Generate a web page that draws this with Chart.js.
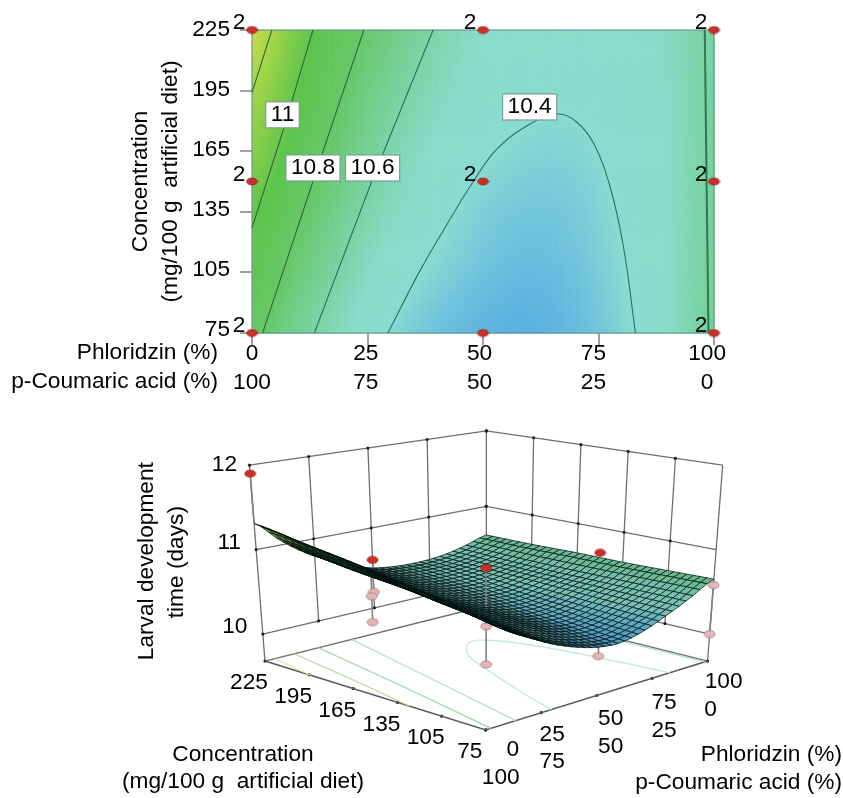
<!DOCTYPE html>
<html>
<head>
<meta charset="utf-8">
<title>Larval development time</title>
<style>
html, body { margin: 0; padding: 0; background: #fff; overflow: hidden; }
canvas { position: absolute; left: 0; display: block; }
#contourChart { top: 0; }
#surfaceChart { top: 400px; }
</style>
<script src="https://cdn.jsdelivr.net/npm/chart.js@4/dist/chart.umd.min.js"></script>
</head>
<body>
<canvas id="contourChart" width="843" height="400"></canvas>
<canvas id="surfaceChart" width="843" height="398"></canvas>
<script>
var phloridzinTicks = [0, 25, 50, 75, 100];
var coumaricTicks = [100, 75, 50, 25, 0];
var concentrationTicks = [75, 105, 135, 165, 195, 225];
var timeTicks = [10, 11, 12];

// response, rows run from 225 down to 75, columns from 0 to 100 %
var gridPhloridzin = [0, 10, 20, 30, 40, 50, 60, 70, 80, 90, 100];
var gridConcentration = [225, 195, 165, 135, 105, 75];
var row225 = [11.31, 11.07, 10.87, 10.72, 10.59, 10.50, 10.46, 10.45, 10.47, 10.53, 10.62];
var row195 = [11.21, 11.01, 10.80, 10.65, 10.54, 10.46, 10.42, 10.42, 10.45, 10.51, 10.62];
var row165 = [11.12, 10.94, 10.74, 10.59, 10.48, 10.41, 10.37, 10.37, 10.43, 10.50, 10.63];
var row135 = [11.03, 10.84, 10.66, 10.53, 10.43, 10.35, 10.31, 10.33, 10.41, 10.50, 10.63];
var row105 = [10.94, 10.75, 10.59, 10.46, 10.37, 10.29, 10.25, 10.29, 10.39, 10.50, 10.64];
var row75 = [10.84, 10.66, 10.52, 10.39, 10.29, 10.22, 10.20, 10.26, 10.37, 10.50, 10.65];
var devTime = [row225, row195, row165, row135, row105, row75];

// contour lines
var line112X = [4.3, 0];
var line112Y = [225, 194];
var line11X = [13.2, 6.7, 0];
var line11Y = [225, 175, 127];
var line108X = [24.2, 13.2, 2.3];
var line108Y = [225, 150, 75];
var line106X = [39.2, 25.9, 13.5];
var line106Y = [225, 150, 75];
var line104X = [29.4, 36.4, 42, 47.9, 53, 60.2, 66.3, 70.2, 73.9, 77.5, 80.4, 83];
var line104Y = [75, 106, 128, 150, 166, 178.5, 183.4, 179.6, 169, 147.4, 117.7, 75];
var line106RightX = [98, 98.4, 98.8];
var line106RightY = [225, 150, 75];

var contourBoxText = ['11', '10.8', '10.6', '10.4'];
var contourBoxX = [6.6, 13.2, 26.1, 60.1];
var contourBoxY = [183, 156.7, 156.7, 186.9];

// design points on the contour plot and how many runs sit on each
var designX = [0, 0, 0, 50, 50, 50, 100, 100, 100];
var designY = [225, 150, 75, 225, 150, 75, 225, 150, 75];
var designRuns = [2, 2, 2, 2, 2, 1, 2, 2, 2];

// runs seen on the 3D plot
var aboveX = [0, 50, 50, 100];
var aboveY = [225, 225, 150, 150];
var aboveTime = [11.9, 10.6, 10.82, 10.69];
var belowX = [50, 0, 0, 50, 50, 50, 100, 100];
var belowY = [225, 150, 150, 150, 150, 75, 75, 75];
var belowTime = [10.2, 10.79, 10.5, 10.13, 9.68, 10.12, 10.58, 10.0];

var rampTime = [10.2, 10.3, 10.4, 10.5, 10.6, 10.8, 11.0, 11.2, 11.35];
var rampColor = [[90, 176, 224], [112, 196, 220], [136, 220, 208], [136, 220, 200], [122, 212, 168], [102, 200, 106], [92, 196, 76], [160, 212, 72], [208, 220, 80]];

var FONT = '"Liberation Sans", Arial, sans-serif';
var FONT_SIZE = 22.7;
var FLOOR_TIME = 9.68;
var TOP_TIME = 12;

Chart.defaults.font.family = FONT;
Chart.defaults.font.size = FONT_SIZE;
Chart.defaults.color = '#000';

function rampAt(z) {
    var i = 0;
    if (z <= rampTime[0]) return rampColor[0].slice();
    while (i < rampTime.length - 2 && z > rampTime[i + 1]) i++;
    var t = Math.min(1, (z - rampTime[i]) / (rampTime[i + 1] - rampTime[i]));
    return rampColor[i].map(function (c, k) { return c + (rampColor[i + 1][k] - c) * t; });
}

function rgb(c, k) {
    k = k || 1;
    return 'rgb(' + Math.round(c[0] * k) + ',' + Math.round(c[1] * k) + ',' + Math.round(c[2] * k) + ')';
}

function catmull(a, b, c, d, t) {
    return b + 0.5 * t * (c - a + t * (2 * a - 5 * b + 4 * c - d + t * (3 * (b - c) + d - a)));
}

// display-only smoothing of the read grid, used for shading and the fine mesh
function sampleTime(x, y) {
    var cf = x / 10, rf = (225 - y) / 30;
    var c = Math.min(9, Math.floor(cf)), r = Math.min(4, Math.floor(rf));
    var vals = [];
    for (var i = -1; i <= 2; i++) {
        var row = devTime[Math.max(0, Math.min(5, r + i))];
        vals.push(catmull(row[Math.max(0, c - 1)], row[c], row[c + 1], row[Math.min(10, c + 2)], cf - c));
    }
    return catmull(vals[0], vals[1], vals[2], vals[3], rf - r);
}

function pairs(xs, ys) {
    return xs.map(function (v, i) { return { x: v, y: ys[i] }; });
}

function ellipseSprite(fill, stroke) {
    var c = document.createElement('canvas');
    c.width = 13; c.height = 9;
    var g = c.getContext('2d');
    g.beginPath();
    g.ellipse(6.5, 4.5, 5.5, 3.5, 0, 0, Math.PI * 2);
    g.fillStyle = fill;
    g.fill();
    g.lineWidth = 0.8;
    g.strokeStyle = stroke;
    g.stroke();
    return c;
}
var redDot = ellipseSprite('#cf2e26', '#8a2a26');
var pinkDot = ellipseSprite('#e9b4b8', '#8a7a7a');

function text(ctx, str, x, y, align, angle) {
    ctx.save();
    ctx.font = FONT_SIZE + 'px ' + FONT;
    ctx.fillStyle = '#000';
    ctx.textAlign = align || 'center';
    ctx.textBaseline = 'middle';
    ctx.translate(x, y);
    if (angle) ctx.rotate(angle);
    ctx.fillText(str, 0, 0);
    ctx.restore();
}

function fixedTicks(values) {
    return function (scale) {
        scale.ticks = values.map(function (v) { return { value: v }; });
    };
}

function contourSet(xs, ys, color, width, tension) {
    return {
        data: pairs(xs, ys), showLine: true, pointRadius: 0, borderColor: color,
        borderWidth: width, tension: tension || 0, clip: false, order: 2
    };
}

var contourPaint = {
    id: 'contourPaint',
    beforeDatasetsDraw: function (chart) {
        var ctx = chart.ctx, sx = chart.scales.x, sy = chart.scales.y;
        var stepX = 0.5, stepY = 1.5;
        for (var x = 0; x < 100; x += stepX) {
            for (var y = 75; y < 225; y += stepY) {
                var left = sx.getPixelForValue(x), right = sx.getPixelForValue(x + stepX);
                var top = sy.getPixelForValue(y + stepY), bottom = sy.getPixelForValue(y);
                ctx.fillStyle = rgb(rampAt(sampleTime(x + stepX / 2, y + stepY / 2)));
                ctx.fillRect(left, top, right - left + 0.6, bottom - top + 0.6);
            }
        }
        var a = chart.chartArea;
        ctx.strokeStyle = '#6a9a8c';
        ctx.lineWidth = 1.2;
        ctx.strokeRect(a.left, a.top, a.right - a.left, a.bottom - a.top);
    },
    afterDatasetsDraw: function (chart) {
        var ctx = chart.ctx, sx = chart.scales.x, sy = chart.scales.y;
        contourBoxText.forEach(function (label, i) {
            var cx = sx.getPixelForValue(contourBoxX[i]), cy = sy.getPixelForValue(contourBoxY[i]);
            ctx.font = FONT_SIZE + 'px ' + FONT;
            var w = ctx.measureText(label).width + 10;
            ctx.fillStyle = '#fff';
            ctx.fillRect(cx - w / 2, cy - 13, w, 26);
            ctx.strokeStyle = '#7f9a94';
            ctx.lineWidth = 1.2;
            ctx.strokeRect(cx - w / 2, cy - 13, w, 26);
            text(ctx, label, cx, cy);
        });
        designRuns.forEach(function (n, i) {
            if (n > 1) text(ctx, String(n), sx.getPixelForValue(designX[i]) - 13, sy.getPixelForValue(designY[i]) - 7);
        });
        var b = chart.chartArea.bottom;
        text(ctx, 'Phloridzin (%)', 218, b + 20, 'right');
        text(ctx, 'p-Coumaric acid (%)', 218, b + 49, 'right');
    }
};

new Chart(document.getElementById('contourChart'), {
    type: 'scatter',
    data: {
        datasets: [
            contourSet(line112X, line112Y, '#2c6a3a', 1.1),
            contourSet(line11X, line11Y, '#2c6a3a', 1.1),
            contourSet(line108X, line108Y, '#2c6a3a', 1.1),
            contourSet(line106X, line106Y, '#2f6e58', 1.1),
            contourSet(line104X, line104Y, '#2f6e68', 1.1, 0.4),
            contourSet(line106RightX, line106RightY, '#2f7a50', 2),
            {
                data: pairs(designX, designY), pointStyle: redDot, pointRadius: 5,
                showLine: false, clip: false, order: 1
            }
        ]
    },
    options: {
        responsive: false,
        animation: false,
        devicePixelRatio: 1,
        layout: { padding: { left: 0, right: 129, top: 30, bottom: 0 } },
        plugins: { legend: { display: false }, tooltip: { enabled: false } },
        scales: {
            x: {
                type: 'linear', position: 'bottom', min: 0, max: 100, weight: 1,
                afterBuildTicks: fixedTicks(phloridzinTicks),
                afterFit: function (s) { s.height = 2; },
                border: { display: false },
                grid: { drawOnChartArea: false, tickLength: 12, color: '#a0a0a0', lineWidth: 2 },
                ticks: { display: false }
            },
            xLabels: {
                type: 'linear', position: 'bottom', min: 0, max: 101.5, weight: 2,
                afterBuildTicks: fixedTicks(phloridzinTicks),
                afterFit: function (s) { s.height = 65; },
                border: { display: false },
                grid: { display: false, drawTicks: false },
                ticks: {
                    autoSkip: false, maxRotation: 0, padding: 4,
                    font: { size: FONT_SIZE, lineHeight: 1.28 },
                    callback: function (v, i) { return [String(v), String(coumaricTicks[i])]; }
                }
            },
            y: {
                type: 'linear', position: 'left', min: 75, max: 225, weight: 1,
                afterBuildTicks: fixedTicks(concentrationTicks),
                afterFit: function (s) { s.width = 12; },
                border: { display: false },
                grid: { drawOnChartArea: false, tickLength: 12, color: '#a0a0a0', lineWidth: 2 },
                ticks: { display: false }
            },
            yLabels: {
                type: 'linear', position: 'left', min: 73.5, max: 225, weight: 2,
                afterBuildTicks: fixedTicks(concentrationTicks),
                afterFit: function (s) { s.width = 240; },
                border: { display: false },
                grid: { display: false, drawTicks: false },
                title: {
                    display: true,
                    text: ['Concentration', '(mg/100 g  artificial diet)'],
                    font: { size: FONT_SIZE, lineHeight: 1.32 },
                    padding: { top: 126, bottom: 0 }
                },
                ticks: { autoSkip: false, padding: 10, font: { size: FONT_SIZE } }
            }
        }
    },
    plugins: [contourPaint]
});

// 3D view: the box corners in page pixels, trilinear between them
var floorCorners = { a: [262.7, 663], b: [487, 606], c: [486.7, 734], d: [711.7, 663] };
var roofCorners = { a: [247, 461], b: [487.3, 425.7], c: [487, 508], d: [727, 461] };

function project(x, y, z) {
    var u = x / 100, v = (225 - y) / 150, w = (z - FLOOR_TIME) / (TOP_TIME - FLOOR_TIME);
    function mix(k, q) {
        var back = k.a[q] + (k.b[q] - k.a[q]) * u;
        var front = k.c[q] + (k.d[q] - k.c[q]) * u;
        return back + (front - back) * v;
    }
    return {
        x: mix(floorCorners, 0) + (mix(roofCorners, 0) - mix(floorCorners, 0)) * w,
        y: mix(floorCorners, 1) + (mix(roofCorners, 1) - mix(floorCorners, 1)) * w
    };
}

function segments(list) {
    var out = [];
    list.forEach(function (seg) {
        seg.forEach(function (p) { out.push(project(p[0], p[1], p[2])); });
        out.push({ x: null, y: null });
    });
    return out;
}

var wallLines = [];
timeTicks.forEach(function (z) {
    wallLines.push([[0, 225, z], [100, 225, z], [100, 75, z]]);
});
phloridzinTicks.slice(1).forEach(function (v) {
    wallLines.push([[v, 225, 10], [v, 225, TOP_TIME]]);
});
concentrationTicks.slice(1, 5).forEach(function (v) {
    wallLines.push([[100, v, 10], [100, v, TOP_TIME]]);
});
wallLines.push([[0, 225, FLOOR_TIME], [0, 225, TOP_TIME]]);
wallLines.push([[100, 75, FLOOR_TIME], [100, 75, TOP_TIME]]);
wallLines.push([[0, 225, FLOOR_TIME], [100, 225, FLOOR_TIME], [100, 75, FLOOR_TIME]]);

var floorEdges = [[[0, 225, FLOOR_TIME], [0, 75, FLOOR_TIME], [100, 75, FLOOR_TIME]]];

var tickDots = [];
phloridzinTicks.forEach(function (v) { tickDots.push(project(v, 75, FLOOR_TIME)); });
concentrationTicks.forEach(function (v) { tickDots.push(project(0, v, FLOOR_TIME)); });
timeTicks.forEach(function (z) {
    tickDots.push(project(0, 225, z));
    phloridzinTicks.slice(1).forEach(function (v) { tickDots.push(project(v, 225, z)); });
    concentrationTicks.slice(1).forEach(function (v) { tickDots.push(project(100, v, z)); });
});

function floorContour(xs, ys, color, tension) {
    return {
        data: xs.map(function (v, i) { return project(v, ys[i], FLOOR_TIME); }),
        showLine: true, pointRadius: 0, borderColor: color, borderWidth: 1.2,
        tension: tension || 0, clip: false, order: 5
    };
}

function stemData(xs, ys, zs) {
    return segments(xs.map(function (v, i) {
        return [[v, ys[i], zs[i]], [v, ys[i], sampleTime(v, ys[i])]];
    }));
}

function runPoints(xs, ys, zs) {
    return xs.map(function (v, i) { return project(v, ys[i], zs[i]); });
}

var MESH = 34;

var surfacePaint = {
    id: 'surfacePaint',
    afterDatasetDraw: function (chart, args) {
        if (chart.data.datasets[args.index].label !== 'surface') return;
        var ctx = chart.ctx, sx = chart.scales.x, sy = chart.scales.y;
        function node(i, j) {
            var x = i * 100 / MESH, y = 75 + j * 150 / MESH;
            var p = project(x, y, sampleTime(x, y));
            return [sx.getPixelForValue(p.x), sy.getPixelForValue(p.y)];
        }
        ctx.save();
        ctx.lineWidth = 0.8;
        ctx.strokeStyle = 'rgba(0,15,15,0.9)';
        for (var i = MESH - 1; i >= 0; i--) {
            for (var j = MESH - 1; j >= 0; j--) {
                var a = node(i, j), b = node(i + 1, j), c = node(i + 1, j + 1), d = node(i, j + 1);
                var z = sampleTime((i + 0.5) * 100 / MESH, 75 + (j + 0.5) * 150 / MESH);
                // cells seen nearly edge-on go dark, as the dense mesh does in the original
                var area = Math.abs((c[0] - a[0]) * (d[1] - b[1]) - (d[0] - b[0]) * (c[1] - a[1])) / 2;
                var shade = 0.25 + 0.63 * Math.min(1, area / 26);
                ctx.beginPath();
                ctx.moveTo(a[0], a[1]);
                ctx.lineTo(b[0], b[1]);
                ctx.lineTo(c[0], c[1]);
                ctx.lineTo(d[0], d[1]);
                ctx.closePath();
                ctx.fillStyle = rgb(rampAt(z), shade);
                ctx.fill();
                ctx.stroke();
            }
        }
        ctx.restore();
    },
    afterDatasetsDraw: function (chart) {
        var ctx = chart.ctx, sx = chart.scales.x, sy = chart.scales.y;
        function at(p, dx, dy, str, align) {
            text(ctx, str, sx.getPixelForValue(p.x) + dx, sy.getPixelForValue(p.y) + dy, align);
        }
        concentrationTicks.forEach(function (v) {
            at(project(0, v, FLOOR_TIME), -16, 22, String(v));
        });
        var upperDx = [27, 11, 14, 12, 16], upperDy = [20, 22, 23, 24, 21];
        var lowerDx = [15, 11, 14, 12, 3], lowerDy = [48, 49, 51, 52, 49];
        phloridzinTicks.forEach(function (v, i) {
            var p = project(v, 75, FLOOR_TIME);
            at(p, upperDx[i], upperDy[i], String(v));
            at(p, lowerDx[i], lowerDy[i], String(coumaricTicks[i]));
        });
        var timeDx = [-28, -27, -25], timeDy = [-7, -7, 0];
        timeTicks.forEach(function (z, i) {
            at(project(0, 225, z), timeDx[i], timeDy[i], String(z));
        });
        text(ctx, 'Larval development', 147, sy.getPixelForValue(560), 'center', -Math.PI / 2);
        text(ctx, 'time (days)', 177, sy.getPixelForValue(561), 'center', -Math.PI / 2);
        text(ctx, 'Concentration', 243, sy.getPixelForValue(760));
        text(ctx, '(mg/100 g  artificial diet)', 243, sy.getPixelForValue(787));
        text(ctx, 'Phloridzin (%)', 842, sy.getPixelForValue(760), 'right');
        text(ctx, 'p-Coumaric acid (%)', 842, sy.getPixelForValue(788), 'right');
    }
};

new Chart(document.getElementById('surfaceChart'), {
    type: 'scatter',
    data: {
        datasets: [
            {
                data: segments(wallLines), showLine: true, spanGaps: false, pointRadius: 0,
                borderColor: '#6e6e6e', borderWidth: 1.3, clip: false, order: 7
            },
            {
                data: segments(floorEdges), showLine: true, spanGaps: false, pointRadius: 0,
                borderColor: '#5a5a5a', borderWidth: 1.5, clip: false, order: 6
            },
            {
                data: tickDots, showLine: false, pointRadius: 1.6, pointBackgroundColor: '#222',
                pointBorderWidth: 0, clip: false, order: 6
            },
            floorContour(line112X, line112Y, '#dfe6a8'),
            floorContour(line11X, line11Y, '#b4dc98'),
            floorContour(line108X, line108Y, '#9ad6a0'),
            floorContour(line106X, line106Y, '#aee2cc'),
            floorContour(line104X, line104Y, '#b8e8e2', 0.4),
            floorContour(line106RightX, line106RightY, '#aee2cc'),
            {
                data: stemData(belowX, belowY, belowTime), showLine: true, spanGaps: false, pointRadius: 0,
                borderColor: '#808080', borderWidth: 1.6, clip: false, order: 4
            },
            {
                data: runPoints(belowX, belowY, belowTime), showLine: false, pointStyle: pinkDot,
                pointRadius: 5, clip: false, order: 3
            },
            { label: 'surface', data: [], order: 2 },
            {
                data: stemData(aboveX, aboveY, aboveTime), showLine: true, spanGaps: false, pointRadius: 0,
                borderColor: '#808080', borderWidth: 1.6, clip: false, order: 1
            },
            {
                data: runPoints(aboveX, aboveY, aboveTime), showLine: false, pointStyle: redDot,
                pointRadius: 5, clip: false, order: 0
            }
        ]
    },
    options: {
        responsive: false,
        animation: false,
        devicePixelRatio: 1,
        layout: { padding: 0 },
        plugins: { legend: { display: false }, tooltip: { enabled: false } },
        scales: {
            x: { type: 'linear', min: 0, max: 843, display: false },
            y: { type: 'linear', min: 400, max: 798, reverse: true, display: false }
        }
    },
    plugins: [surfacePaint]
});
</script>
</body>
</html>
